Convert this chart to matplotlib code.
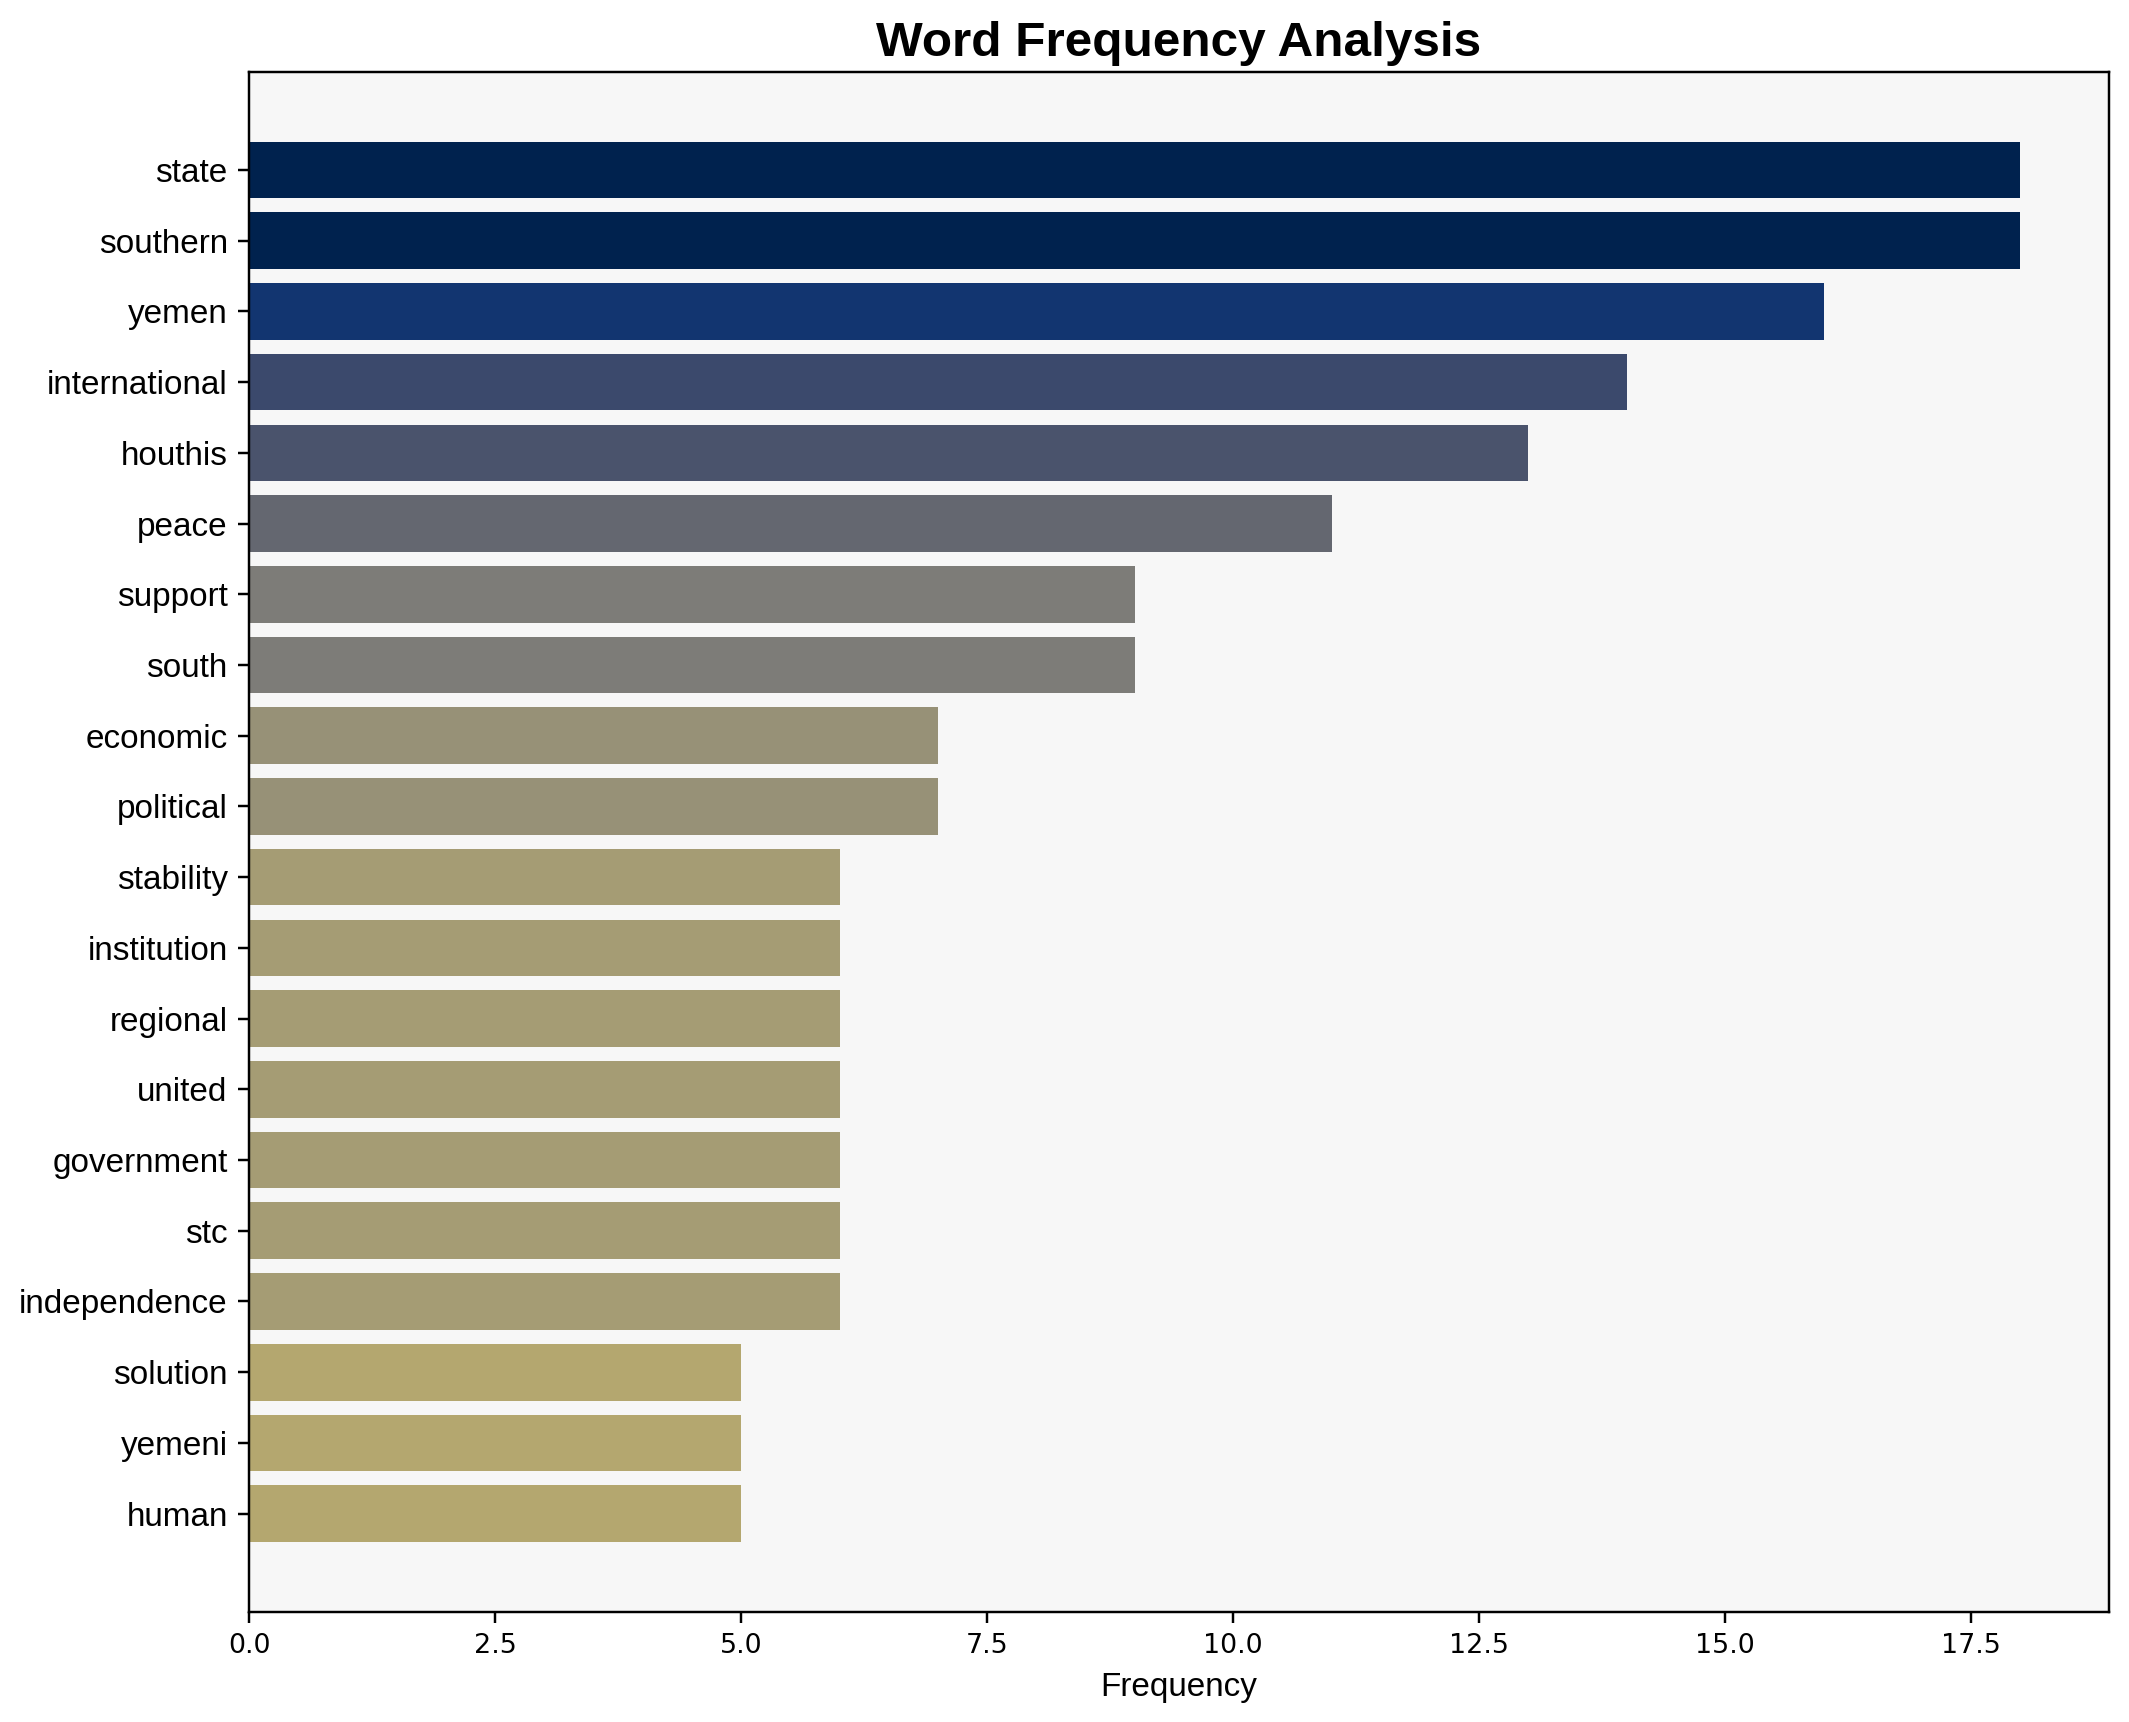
import numpy as np
import matplotlib
matplotlib.use("Agg")
import matplotlib.pyplot as plt

# -------------------------------
# Data
# -------------------------------
words = ["state", "southern", "yemen", "international", "houthis", "peace",
         "support", "south", "economic", "political", "stability", "institution",
         "regional", "united", "government", "stc", "independence", "solution",
         "yemeni", "human"]
counts = [18, 18, 16, 14, 13, 11, 9, 9, 7, 7, 6, 6, 6, 6, 6, 6, 6, 5, 5, 5]

# -------------------------------
# Plot
# -------------------------------
DPI = 220
fig = plt.figure(figsize=(2129 / DPI, 1722 / DPI), dpi=DPI)
ax = fig.add_axes([0.117, 0.0639, 0.8736, 0.8945])
ax.set_facecolor("#f7f7f7")

vals = np.array(counts, dtype=float)
colors = plt.cm.cividis(1 - vals / vals.max())
ypos = np.arange(len(words))
ax.barh(ypos, vals, color=colors, height=0.8)
ax.set_yticks(ypos)
ax.set_yticklabels(words, fontfamily="Liberation Sans", fontsize=10.9)
ax.invert_yaxis()

ax.tick_params(axis="x", labelsize=8.8)

ax.set_xlabel("Frequency", fontfamily="Liberation Sans", fontsize=10.9)
ax.set_title("Word Frequency Analysis", fontfamily="Liberation Sans",
             fontsize=16.2, fontweight="bold", pad=5)

fig.savefig("out.png", dpi=DPI)
